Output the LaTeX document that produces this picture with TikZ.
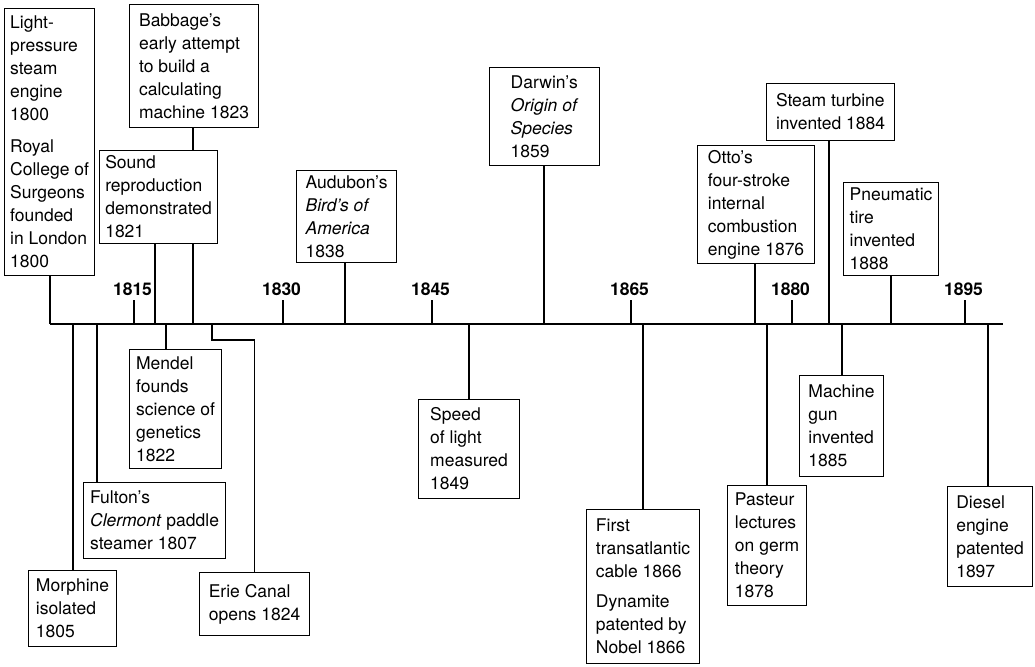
\documentclass[tikz,border=0pt]{standalone}
\usepackage{fontspec}
\setmainfont{TeX Gyre Heros}
\begin{document}
\begin{tikzpicture}[x=1pt,y=-1pt,
  line width=1.1pt,
  evbox/.style={draw, fill=white, anchor=north west, align=left,
    inner xsep=0pt, inner ysep=0pt,
    font=\fontsize{17.5}{23}\selectfont},
  yearlbl/.style={anchor=base, inner sep=0pt,
    font=\fontsize{17.5}{20}\selectfont\bfseries},
]
% canvas
\fill[white] (0,0) rectangle (1035,666);
\useasboundingbox (0,0) rectangle (1035,666);

% event boxes: position is the top-left corner, size set explicitly
\newcommand{\evt}[6]{%
  \node[evbox, minimum width=#4-#2, minimum height=#5-#3] (#1) at (#2,#3) {#6};}

% above the axis
\evt{light}{4}{8}{94}{275}{Light-\\pressure\\steam\\engine\\1800\\[9pt]Royal\\College of\\Surgeons\\founded\\in London\\1800}
\evt{babbage}{129}{4}{258}{127}{Babbage's\\early attempt\\to build a\\calculating\\machine 1823}
\evt{sound}{99}{150}{217}{243}{Sound\\reproduction\\demonstrated\\1821}
\evt{audubon}{296}{170}{396}{262}{Audubon's\\\textit{Bird's of}\\\textit{America}\\1838}
\evt{darwin}{489}{67}{599}{165}{Darwin's\\\textit{Origin of}\\\textit{Species}\\1859}
\evt{otto}{697}{145}{814}{263}{Otto's\\four-stroke\\internal\\combustion\\engine 1876}
\evt{turbine}{766}{83}{894}{140}{Steam turbine\\invented 1884}
\evt{tire}{843}{182}{938}{275}{Pneumatic\\tire\\invented\\1888}

% below the axis
\evt{mendel}{129}{349}{221}{468}{Mendel\\founds\\science of\\genetics\\1822}
\evt{morphine}{28}{570}{116}{646}{Morphine\\isolated\\1805}
\evt{fulton}{83}{482}{225}{558}{Fulton's\\\textit{Clermont} paddle\\steamer 1807}
\evt{erie}{199}{572}{309}{635}{Erie Canal\\opens 1824}
\evt{light2}{418}{399}{519}{498}{Speed\\of light\\measured\\1849}
\evt{cable}{586}{509}{699}{663}{First\\transatlantic\\cable 1866\\[7pt]Dynamite\\patented by\\Nobel 1866}
\evt{pasteur}{727}{485}{806}{605}{Pasteur\\lectures\\on germ\\theory\\1878}
\evt{gun}{799}{375}{883}{476}{Machine\\gun\\invented\\1885}
\evt{diesel}{947}{486}{1032}{586}{Diesel\\engine\\patented\\1897}

% the time axis
\coordinate (axL) at (50,324);
\coordinate (axR) at (1003,324);
\draw (axL) -- (axR);

% year ticks and labels
\foreach \yr/\px in {1815/134, 1830/283, 1845/432, 1865/631, 1880/792, 1895/965}{
  \coordinate (tick\yr) at (\px,324);
  \draw (tick\yr) -- ++(0,-24) coordinate (tktop\yr);
  \node[yearlbl] (lbl\yr) at (\px-1.5,295) {\yr};
}

% attachment points on the axis
\coordinate (p1800)  at (50,324);
\coordinate (p1805)  at (73,324);
\coordinate (p1807)  at (97,324);
\coordinate (p1821)  at (155,324);
\coordinate (p1822)  at (166,324);
\coordinate (p1823)  at (193,324);
\coordinate (p1824)  at (212,324);
\coordinate (p1838)  at (345,324);
\coordinate (p1849)  at (469,324);
\coordinate (p1859)  at (544,324);
\coordinate (p1866)  at (643,324);
\coordinate (p1876)  at (755,324);
\coordinate (p1878)  at (767,324);
\coordinate (p1884)  at (829,324);
\coordinate (p1885)  at (842,324);
\coordinate (p1888)  at (891,324);
\coordinate (p1897)  at (988,324);

% connectors above the axis
\draw (light.south -| p1800) -- (p1800);
\draw (babbage.south -| p1823) -- (sound.north -| p1823);
\draw (sound.south -| p1823) -- (p1823);
\draw (sound.south -| p1821) -- (p1821);
\draw (audubon.south -| p1838) -- (p1838);
\draw (darwin.south -| p1859) -- (p1859);
\draw (otto.south -| p1876) -- (p1876);
\draw (turbine.south -| p1884) -- (p1884);
\draw (tire.south -| p1888) -- (p1888);

% connectors below the axis
\draw (p1805) -- (morphine.north -| p1805);
\draw (p1807) -- (fulton.north -| p1807);
\draw (p1822) -- (mendel.north -| p1822);
\draw (p1824) -- ++(0,16) -| (erie.north);
\draw (p1849) -- (light2.north -| p1849);
\draw (p1866) -- (cable.north -| p1866);
\draw (p1878) -- (pasteur.north -| p1878);
\draw (p1885) -- (gun.north -| p1885);
\draw (p1897) -- (diesel.north -| p1897);
\end{tikzpicture}
\end{document}
